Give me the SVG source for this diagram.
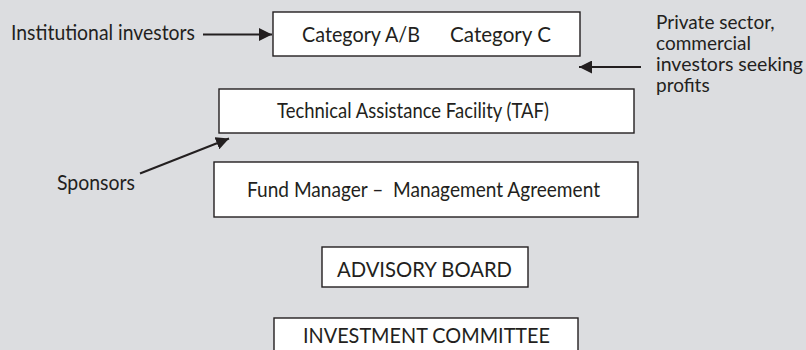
<svg xmlns="http://www.w3.org/2000/svg" width="806" height="350" viewBox="0 0 806 350">
<defs>
<style>
text{font-family:Lato,"Open Sans","DejaVu Sans",sans-serif;font-size:22px;fill:#231f20}
text.side{font-size:19px}
rect.box{fill:#fff;stroke:#231f20;stroke-width:1.4}
.conn line{stroke:#231f20;stroke-width:2}
</style>
<marker id="ah" viewBox="0 0 13 13" refX="13" refY="6.5" markerWidth="13" markerHeight="13" markerUnits="userSpaceOnUse" orient="auto">
<path d="M0,0 L13,6.5 L0,13 Z" fill="#231f20"/>
</marker>
</defs>
<rect width="806" height="350" fill="#dcdde0"/>
<g id="category">
<rect class="box" x="273" y="12" width="307" height="44"/>
<text x="302" y="42" textLength="118" lengthAdjust="spacingAndGlyphs">Category A/B</text>
<text x="450" y="42" textLength="101" lengthAdjust="spacingAndGlyphs">Category C</text>
</g>
<g id="taf">
<rect class="box" x="219" y="89" width="415" height="44"/>
<text x="277" y="117.5" textLength="272" lengthAdjust="spacingAndGlyphs">Technical Assistance Facility (TAF)</text>
</g>
<g id="fund-manager">
<rect class="box" x="214" y="162" width="424" height="55"/>
<text x="247" y="197" textLength="353" lengthAdjust="spacingAndGlyphs" xml:space="preserve">Fund Manager –  Management Agreement</text>
</g>
<g id="advisory-board">
<rect class="box" x="322" y="247" width="206" height="40"/>
<text x="337" y="277" textLength="175" lengthAdjust="spacingAndGlyphs">ADVISORY BOARD</text>
</g>
<g id="investment-committee">
<rect class="box" x="274" y="318" width="304" height="40"/>
<text x="303" y="343" textLength="247" lengthAdjust="spacingAndGlyphs">INVESTMENT COMMITTEE</text>
</g>
<g id="institutional">
<text x="11" y="40" textLength="184" lengthAdjust="spacingAndGlyphs">Institutional investors</text>
</g>
<g id="private-sector">
<text class="side" x="656" y="29">Private sector,</text>
<text class="side" x="656" y="50">commercial</text>
<text class="side" x="656" y="71" textLength="147" lengthAdjust="spacingAndGlyphs">investors seeking</text>
<text class="side" x="656" y="92">profits</text>
</g>
<g id="sponsors">
<text x="57" y="190" textLength="78" lengthAdjust="spacingAndGlyphs">Sponsors</text>
</g>
<g class="conn" id="connectors">
<line x1="203" y1="34.5" x2="272" y2="34.5" marker-end="url(#ah)"/>
<line x1="641" y1="67" x2="579" y2="67" marker-end="url(#ah)"/>
<line x1="140" y1="173.5" x2="229" y2="138.5" marker-end="url(#ah)"/>
</g>
</svg>
